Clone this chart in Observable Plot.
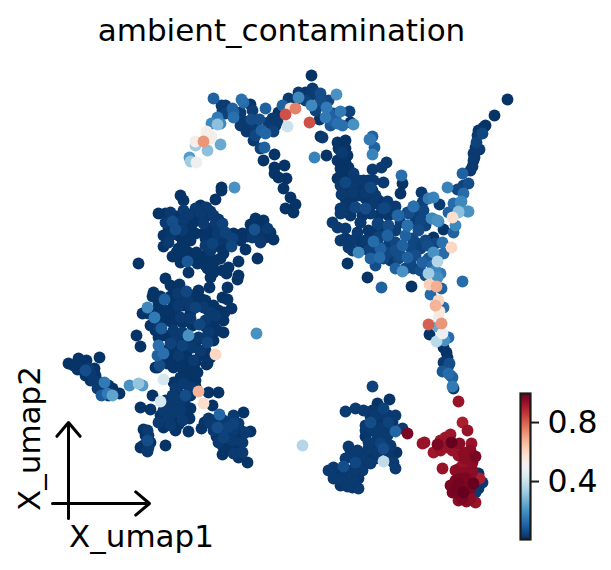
<!DOCTYPE html>
<html><head><meta charset="utf-8">
<script src="https://cdn.jsdelivr.net/npm/d3@7"></script>
<script src="https://cdn.jsdelivr.net/npm/@observablehq/plot@0.6"></script>
<style>
html,body{margin:0;padding:0;background:#fff}
#c{position:relative;width:611px;height:570px;overflow:hidden}
#c svg{position:absolute;left:0;top:0;background:transparent}
</style></head><body><div id="c"></div>
<script>
// each row: umap1, umap2 (in picture units), ambient_contamination
const upperLeftCluster=[[180,195,.015],[183,200,.015],[215,199,.015],[221,190,.015],[234,187,.2],[158,213,.015],[170,212,.025],[183,210,.025],[195,208,.025],[206,207,.025],[200,212,.025],[213,215,.025],[165,222,.025],[172,221,.06],[175,229,.06],[163,235,.015],[168,242,.025],[163,246,.015],[183,220,.025],[192,223,.015],[203,223,.025],[215,223,.025],[222,223,.04],[225,232,.04],[233,233,.015],[242,233,.015],[255,218,.015],[263,220,.015],[254,229,.07],[267,228,.025],[252,237,.025],[260,242,.025],[265,237,.015],[273,239,.015],[245,249,.015],[257,258,.015],[238,261,.015],[231,246,.05],[232,238,.04],[223,253,.015],[212,243,.04],[210,250,.025],[200,257,.015],[187,261,.08],[180,262,.015],[172,256,.015],[188,272,.015],[197,263,.015],[215,260,.015],[207,268,.015],[213,272,.015],[228,267,.015],[226,273,.015],[238,275,.015],[237,279,.015],[210,277,.015],[209,287,.015],[227,287,.015],[138,263,.015],[187,232,.015],[195,233,.015],[178,248,.015],[188,252,.015],[203,233,.015],[210,233,.015],[217,233,.025],[220,247,.015],[205,245,.025],[182,230,.025],[182,240,.015],[175,222,.015],[200,218,.015],[165,213,.015],[176,216,.015],[188,214,.025],[200,205,.015],[210,211,.02],[218,219,.02],[168,228,.015],[178,235,.015],[170,235,.02],[188,225,.015],[197,218,.015],[207,215,.02],[207,228,.015],[214,232,.015],[222,238,.02],[228,243,.015],[218,240,.02],[212,236,.015],[205,238,.015],[190,240,.015],[184,248,.015],[192,256,.015],[183,255,.015],[176,252,.015],[210,258,.015],[220,258,.015],[205,255,.015],[196,252,.015],[258,225,.015],[250,224,.015],[248,233,.015],[258,234,.02],[270,232,.015],[240,240,.015],[247,236,.015],[262,228,.015],[205,265,.015],[212,265,.015],[222,270,.015]];
const lowerLeftCluster=[[165,278,.015],[170,285,.015],[179,284,.015],[153,292,.015],[152,296,.015],[186,291,.05],[177,293,.025],[198,290,.015],[197,297,.015],[164,299,.1],[158,303,.015],[147,307,.18],[142,313,.015],[148,313,.015],[154,317,.15],[172,308,.015],[178,305,.025],[187,300,.025],[195,307,.04],[203,307,.025],[213,305,.015],[222,297,.015],[227,299,.015],[231,308,.015],[210,312,.025],[215,315,.025],[223,320,.015],[223,332,.015],[199,324,.05],[180,317,.025],[190,318,.025],[167,320,.015],[158,327,.025],[161,328,.09],[173,330,.025],[182,332,.025],[188,335,.2],[198,337,.025],[208,332,.025],[207,342,.05],[213,340,.015],[136,335,.015],[140,346,.015],[158,337,.015],[158,345,.13],[170,343,.04],[163,353,.13],[157,355,.1],[182,345,.04],[192,347,.025],[200,350,.025],[170,357,.015],[178,355,.025],[178,364,.015],[188,362,.015],[159,365,.06],[155,367,.015],[197,372,.015],[189,375,.015],[210,357,.015],[206,364,.015],[215,354,.6],[180,377,.015],[256,333,.2],[150,325,.015],[175,340,.025],[165,315,.015],[205,320,.025],[190,305,.025],[160,296,.015],[170,296,.015],[180,297,.015],[192,295,.015],[172,300,.015],[182,305,.015],[190,312,.015],[200,298,.015],[205,300,.015],[208,310,.015],[218,310,.015],[224,312,.015],[175,312,.015],[165,310,.015],[155,310,.015],[160,320,.015],[172,322,.015],[182,322,.015],[192,325,.015],[205,326,.015],[213,322,.015],[217,330,.015],[165,335,.015],[155,330,.015],[170,336,.015],[178,338,.015],[190,340,.015],[203,338,.015],[165,350,.015],[175,350,.015],[186,352,.015],[195,342,.015],[205,350,.015],[185,358,.015],[165,360,.015],[195,362,.015],[200,355,.015],[173,367,.015],[183,370,.015],[192,370,.015]];
const leftArm=[[68,363,.015],[78,358,.015],[86,360,.015],[99,357,.015],[77,369,.015],[85,370,.06],[94,368,.015],[93,380,.025],[90,373,.025],[100,382,.025],[108,385,.015],[104,382,.15],[97,388,.025],[101,395,.09],[107,393,.15],[112,395,.24],[119,393,.015],[129,385,.2],[138,383,.31],[142,385,.22],[163,379,.42],[160,401,.42],[152,395,.015],[82,362,.015],[88,368,.025],[82,367,.015],[85,375,.015],[90,380,.015],[95,375,.015],[97,384,.015],[103,388,.015],[108,395,.015],[112,388,.015],[100,390,.015],[73,365,.015]];
const neckLeft=[[157,367,.015],[167,363,.015],[180,365,.015],[207,363,.015],[198,391,.67],[203,403,.58],[208,392,.015],[218,392,.015],[175,388,.025],[183,383,.025],[185,395,.06],[190,387,.025],[212,405,.015],[170,403,.025],[177,410,.025],[195,380,.015],[193,360,.025],[172,395,.025],[180,400,.025],[188,385,.015],[195,386,.015],[180,378,.015],[173,382,.015],[190,395,.015],[178,393,.015],[168,408,.015],[175,402,.015],[185,405,.015],[165,400,.015],[182,402,.015]];
const bottomLeftCluster=[[140,407,.015],[150,409,.015],[163,410,.025],[158,422,.025],[168,417,.025],[163,427,.015],[182,420,.025],[189,418,.015],[188,431,.015],[201,428,.015],[208,418,.025],[219,414,.11],[233,415,.025],[243,412,.015],[213,430,.025],[217,427,.06],[227,427,.04],[238,423,.025],[250,431,.015],[218,442,.025],[232,440,.025],[242,442,.025],[222,454,.015],[233,453,.025],[242,452,.025],[238,457,.015],[247,462,.015],[143,429,.015],[148,435,.025],[147,440,.06],[140,447,.015],[147,451,.025],[165,445,.015],[302,445,.36],[180,410,.025],[173,412,.025],[210,423,.025],[223,420,.025],[233,430,.025],[223,437,.04],[148,447,.025],[147,430,.025],[170,425,.025],[233,423,.04],[245,432,.025],[172,418,.015],[178,424,.015],[165,418,.015],[175,430,.015],[160,415,.015],[185,412,.015],[190,408,.015],[212,420,.015],[216,436,.015],[225,432,.015],[228,443,.015],[237,435,.015],[240,430,.015],[230,448,.015],[222,445,.015],[213,425,.015],[204,422,.015],[238,447,.015],[232,420,.015],[145,435,.015],[150,442,.015],[143,445,.015],[147,445,.015]];
const lowerMiddleCluster=[[372,386,.04],[389,399,.015],[377,403,.015],[383,408,.04],[355,408,.025],[345,411,.025],[363,410,.025],[395,415,.025],[370,422,.06],[365,425,.025],[388,422,.04],[380,428,.025],[402,428,.025],[395,431,.11],[365,436,.015],[377,438,.025],[387,435,.025],[348,446,.025],[357,450,.025],[368,448,.025],[383,448,.06],[390,445,.025],[377,452,.025],[396,452,.015],[345,458,.025],[355,462,.05],[362,458,.025],[370,463,.025],[383,461,.38],[393,462,.025],[395,468,.025],[333,467,.025],[343,466,.06],[328,470,.025],[333,478,.025],[343,477,.025],[353,480,.025],[347,486,.025],[358,488,.025],[340,478,.025],[353,470,.025],[375,415,.025],[385,415,.025],[372,430,.025],[390,428,.025],[368,442,.025],[380,443,.04],[350,455,.025],[362,470,.025],[348,470,.025],[372,410,.02],[380,415,.02],[388,415,.02],[370,416,.02],[378,422,.02],[365,430,.02],[380,435,.02],[385,442,.02],[360,455,.02],[368,455,.02],[375,458,.02],[355,470,.02],[340,470,.02],[338,475,.02],[345,483,.02],[352,487,.02],[358,478,.02],[365,463,.02],[388,452,.02],[378,445,.02],[350,450,.02],[383,420,.02],[392,422,.02],[340,485,.02]];
const redCluster=[[407,433,.97],[422,443,.93],[424,442,.93],[437,444,.97],[445,437,.92],[450,434,.92],[433,452,.92],[447,447,.93],[451,442,1],[459,443,.95],[471,443,.93],[462,422,.9],[467,430,.93],[458,401,.93],[442,468,.93],[470,450,.95],[463,452,.95],[475,456,.97],[468,460,.93],[459,468,.93],[465,472,.95],[472,470,.95],[460,478,.97],[470,475,.95],[479,478,.9],[473,483,1],[457,488,.98],[463,492,1],[468,493,.95],[460,495,.97],[466,501,.95],[475,502,.93],[462,484,.97],[467,480,.95],[458,483,.98],[455,470,.95],[462,465,.93],[455,480,.97],[450,485,.97],[452,492,.97],[458,500,.95],[470,487,.97],[465,478,.97],[440,440,.92],[440,450,.93],[452,450,.93],[458,455,.93],[464,458,.95],[455,490,.98],[462,498,.97],[472,462,.95],[470,498,.95],[478,473,.015],[478,488,.025],[475,492,.025],[482,482,.025]];
const neck=[[443,362,.025],[448,365,.04],[442,371,.08],[448,373,.12],[452,377,.1],[452,386,.15],[453,388,.015],[450,375,.1],[449,363,.06],[447,357,.015],[446,352,.015],[443,347,.015],[436,341,.37],[444,340,.2],[448,337,.12],[442,333,.48],[429,334,.015],[428,324,.8],[441,323,.72],[437,326,.25],[438,317,.5],[439,311,.55],[435,305,.67],[443,307,.12],[438,300,.6],[430,294,.12],[441,288,.1],[436,286,.68],[429,284,.62],[462,281,.12]];
const rightCluster=[[428,273,.33],[437,277,.2],[440,273,.15],[435,270,.18],[437,261,.36],[433,252,.2],[443,253,.12],[451,247,.6],[442,242,.13],[433,237,.015],[453,232,.1],[443,229,.015],[455,225,.18],[452,217,.58],[467,211,.2],[458,212,.3],[448,212,.1],[460,202,.18],[437,220,.2],[431,218,.18],[439,204,.025],[428,198,.15],[411,286,.015],[381,287,.1],[367,277,.015],[347,263,.015],[358,252,.18],[375,265,.06],[370,258,.1],[380,248,.1],[373,241,.12],[387,235,.1],[379,257,.12],[390,260,.025],[395,268,.1],[402,271,.2],[407,257,.1],[402,245,.1],[395,250,.06],[383,258,.05],[407,225,.12],[405,235,.1],[418,230,.06],[413,268,.05],[425,275,.06],[422,262,.1],[432,265,.12],[420,248,.04],[410,247,.05],[365,208,.04],[355,207,.04],[385,207,.04],[373,203,.025],[397,215,.1],[378,223,.04],[388,227,.04],[360,222,.025],[357,232,.025],[345,228,.025],[352,240,.025],[348,247,.025],[370,213,.025],[342,212,.025],[340,240,.025],[393,207,.025],[413,206,.13],[408,213,.06],[420,220,.05],[388,237,.04],[395,242,.05],[368,250,.04],[388,252,.05],[415,255,.06],[352,250,.025],[365,240,.025],[378,237,.04],[400,255,.06],[412,238,.05],[350,215,.02],[362,215,.02],[378,215,.02],[388,215,.02],[400,222,.03],[395,230,.03],[368,230,.02],[382,232,.03],[345,238,.02],[358,240,.02],[372,232,.02],[362,245,.02],[378,245,.03],[388,245,.03],[398,258,.05],[410,262,.05],[415,242,.04],[425,240,.05],[375,255,.04],[405,268,.05],[420,270,.06],[428,258,.08],[427,245,.06],[435,243,.05],[415,220,.03],[425,225,.04],[345,205,.02],[378,200,.02],[365,198,.02],[352,198,.02],[360,190,.02],[372,190,.02],[380,205,.02]];
const rightArm=[[507,99,.015],[494,115,.015],[485,125,.015],[482,133,.05],[477,135,.025],[476,142,.04],[479,149,.025],[473,153,.025],[473,160,.025],[472,166,.025],[462,173,.1],[468,183,.06],[463,185,.04],[447,187,.17],[457,189,.05],[463,193,.12],[461,201,.18],[453,203,.12],[458,211,.28],[468,211,.2],[421,192,.025],[433,197,.17],[422,202,.04],[413,206,.13],[407,212,.05],[417,211,.04],[423,210,.05],[420,218,.04],[432,218,.18],[438,221,.17],[398,215,.11],[401,175,.13],[402,183,.015],[400,193,.015],[386,162,.025],[381,167,.025],[372,169,.025],[383,182,.025],[483,127,.015],[478,130,.02],[475,147,.02],[470,170,.02],[474,157,.02]];
const centerColumn=[[372,136,.1],[370,139,.15],[374,147,.1],[372,154,.17],[336,94,.2],[349,111,.04],[340,111,.15],[326,107,.15],[325,117,.15],[337,123,.13],[342,125,.13],[350,122,.015],[353,124,.2],[322,137,.025],[326,155,.015],[337,142,.015],[345,140,.015],[338,148,.015],[345,148,.015],[347,155,.015],[337,160,.015],[345,162,.015],[340,168,.015],[348,167,.015],[337,178,.015],[353,173,.025],[345,182,.05],[353,183,.025],[363,180,.025],[373,180,.025],[341,194,.025],[352,192,.025],[370,187,.05],[365,192,.025],[375,195,.025],[387,201,.025],[395,206,.025],[355,207,.05],[365,208,.06],[383,208,.05],[340,208,.025],[340,213,.025],[377,223,.04],[332,222,.025],[337,227,.025],[360,222,.025],[388,225,.06],[407,225,.13],[418,228,.05],[342,152,.025],[340,185,.025],[343,172,.015],[340,150,.015],[343,158,.015],[340,175,.015],[348,178,.015],[358,180,.02],[348,190,.02],[358,195,.02],[345,198,.02],[368,180,.02]];
const topArc=[[311,75,.015],[312,88,.025],[320,93,.06],[310,95,.025],[298,97,.18],[298,92,.025],[288,98,.025],[282,105,.1],[290,108,.58],[295,108,.75],[285,114,.82],[309,122,.82],[287,126,.4],[311,105,.18],[320,100,.06],[319,119,.015],[333,113,.06],[320,136,.015],[314,157,.17],[369,139,.15],[305,100,.04],[315,110,.04],[295,100,.025],[278,112,.015],[272,118,.025],[328,112,.1],[332,120,.1],[300,95,.02],[305,92,.02],[315,92,.03],[322,105,.05],[328,100,.05],[335,118,.1],[330,125,.08]];
const topLeftArc=[[213,98,.1],[241,99,.13],[243,102,.12],[221,105,.025],[250,104,.015],[232,108,.1],[265,108,.1],[217,117,.15],[233,117,.13],[220,123,.18],[217,124,.3],[211,123,.18],[242,120,.025],[251,119,.06],[259,119,.06],[268,122,.025],[277,121,.025],[246,131,.025],[255,135,.05],[261,130,.1],[265,133,.11],[273,131,.04],[253,140,.025],[260,148,.04],[264,147,.1],[274,154,.015],[263,160,.015],[206,131,.52],[195,141,.53],[203,141,.72],[210,138,.52],[195,145,.33],[207,150,.3],[220,144,.25],[189,157,.22],[190,161,.33],[196,162,.5],[211,136,.5],[274,167,.015],[284,165,.015],[274,173,.015],[286,178,.015],[278,177,.015],[283,188,.015],[221,187,.015],[290,197,.015],[295,204,.015],[285,208,.015],[293,212,.015],[228,110,.025],[240,125,.025],[250,127,.025],[233,112,.1],[225,113,.04],[275,125,.02],[268,128,.03],[255,125,.03],[240,112,.03],[225,105,.03],[222,110,.03],[252,110,.03]];
const cells=[upperLeftCluster,lowerLeftCluster,leftArm,neckLeft,bottomLeftCluster,lowerMiddleCluster,redCluster,neck,rightCluster,rightArm,centerColumn,topArc,topLeftArc].flat();
const sorted=d3.sort(cells,d=>d[2]);

const vDomain=[0.007,0.997];
const colorScale={type:"linear",domain:vDomain,interpolate:t=>d3.interpolateRdBu(1-t)};
const colorbarTicks=[0.4,0.8];
const colorbarLevels=d3.range(0.007,0.997,0.99/146);

const font="DejaVu Sans";
const main=Plot.plot({
  width:611,height:570,margin:0,
  style:{fontFamily:font,background:"transparent"},
  x:{domain:[0,611],range:[0,611],axis:null},
  y:{domain:[0,570],range:[0,570],axis:null},
  color:colorScale,
  marks:[
    Plot.dot(sorted,{x:d=>d[0],y:d=>d[1],r:5.9,fill:d=>d[2]}),
    Plot.arrow([{x1:52,y1:503,x2:149,y2:503},{x1:68,y1:518,x2:68,y2:422}],{x1:"x1",y1:"y1",x2:"x2",y2:"y2",stroke:"black",strokeWidth:3,headLength:9,headAngle:80,bend:0}),
    Plot.text(["ambient_contamination"],{x:281,y:31,text:d=>d,fontSize:31,fill:"black"}),
    Plot.text(["X_umap1"],{x:141,y:537,text:d=>d,fontSize:31,fill:"black"}),
    Plot.text(["X_umap2"],{x:30,y:438,text:d=>d,fontSize:31,fill:"black",rotate:-90})
  ]
});
const bar=Plot.plot({
  width:611,height:570,marginLeft:520,marginRight:81,marginTop:393,marginBottom:31,
  style:{fontFamily:font,background:"transparent"},
  x:{domain:[0,1],axis:null},
  y:{domain:vDomain,axis:null},
  color:colorScale,
  marks:[
    Plot.rect(colorbarLevels,{x1:0,x2:1,y1:d=>d,y2:d=>d+0.99/146+0.001,fill:d=>d+0.003,shapeRendering:"crispEdges"}),
    Plot.frame({stroke:"#1a1a1a",strokeWidth:2.2}),
    Plot.axisY(colorbarTicks,{anchor:"right",tickSize:8,tickPadding:9,fontSize:31.5,strokeWidth:2,stroke:"#1a1a1a",fill:"black",tickFormat:d3.format(".1f"),label:null})
  ]
});
const c=document.getElementById("c");
c.append(main,bar);
</script></body></html>
